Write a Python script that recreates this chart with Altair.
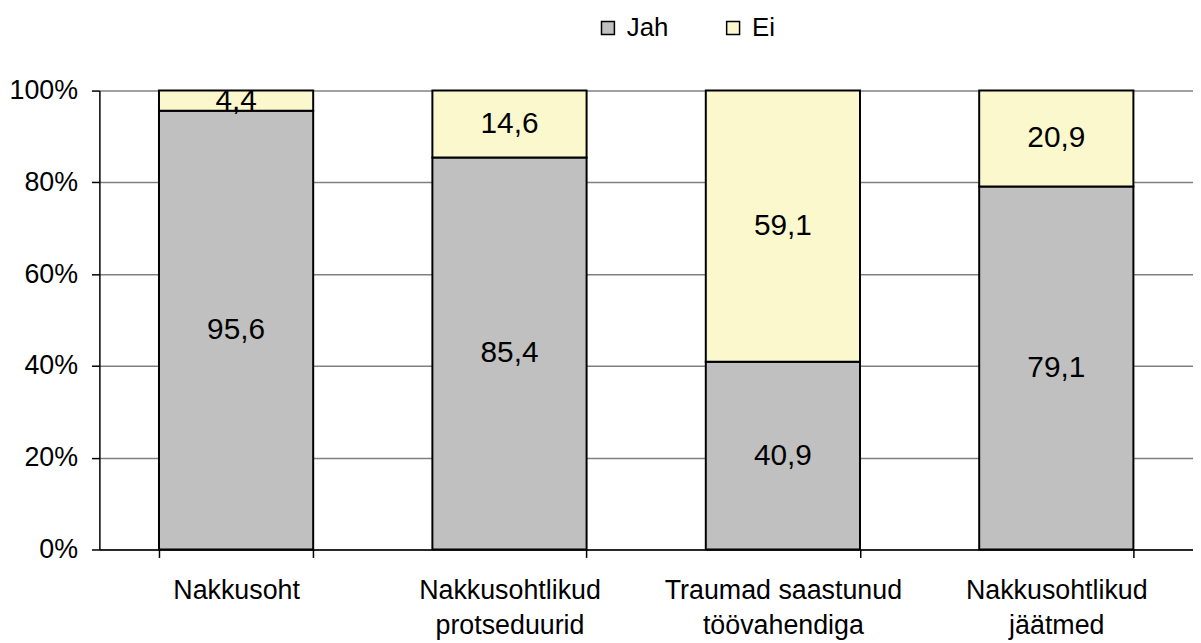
import altair as alt
import pandas as pd

categories = ["Nakkusoht", "Nakkusohtlikud\nprotseduurid", "Traumad saastunud\ntöövahendiga", "Nakkusohtlikud\njäätmed"]
jah = [95.6, 85.4, 40.9, 79.1]
ei = [4.4, 14.6, 59.1, 20.9]
series = ["Jah", "Ei"]
colors = ["#C0C0C0", "#FBF8CE"]

rows = []
for i, c in enumerate(categories):
    rows.append({"cat": c, "series": "Jah", "value": jah[i], "ord": 0})
    rows.append({"cat": c, "series": "Ei", "value": ei[i], "ord": 1})
df = pd.DataFrame(rows)
df["label"] = df["value"].map(lambda v: f"{v:.1f}".replace(".", ","))

FONT = "Liberation Sans"

x = alt.X("cat:N", sort=categories, title=None,
          scale=alt.Scale(paddingInner=0.436, paddingOuter=0.218),
          axis=alt.Axis(labelAngle=0, labelFontSize=27, labelFont=FONT, labelColor="black",
                        labelExpr="split(datum.label, '\\n')", labelPadding=20,
                        labelLineHeight=36, labelLimit=500,
                        tickBand="extent", tickColor="black", tickSize=8, tickWidth=1.5,
                        domainColor="black", domainWidth=1.5, grid=False,
                        minExtent=92, maxExtent=92))

bars = alt.Chart(df).mark_bar(stroke="black", strokeWidth=2).encode(
    x=x,
    y=alt.Y("value:Q", stack="zero", title=None,
            scale=alt.Scale(domain=[0, 100]),
            axis=alt.Axis(values=[0, 20, 40, 60, 80, 100], labelExpr="datum.value + '%'",
                          labelFontSize=27, labelFont=FONT, labelColor="black", labelPadding=14,
                          tickColor="black", tickSize=8, tickWidth=1.5,
                          domainColor="black", domainWidth=1.5,
                          gridColor="#808080", gridWidth=1.5,
                          minExtent=92, maxExtent=92)),
    color=alt.Color("series:N", sort=series,
                    scale=alt.Scale(domain=series, range=colors),
                    legend=alt.Legend(title=None, orient="none", direction="horizontal",
                                      legendX=499, legendY=-76,
                                      symbolType="square", symbolSize=169,
                                      symbolStrokeColor="black", symbolStrokeWidth=1.5,
                                      labelFontSize=26, labelFont=FONT, labelColor="black",
                                      labelOffset=6, columnPadding=52)),
    order=alt.Order("ord:Q"),
)

text = alt.Chart(df).mark_text(fontSize=30, font=FONT, color="black").encode(
    x=alt.X("cat:N", sort=categories),
    y=alt.Y("value:Q", stack="zero", bandPosition=0.5),
    detail="series:N",
    order=alt.Order("ord:Q"),
    text="label:N",
)

chart = alt.layer(bars, text).properties(
    width=1101, height=462,
    autosize=alt.AutoSizeParams(type="none"),
    padding={"left": 92, "right": 0, "top": 81, "bottom": 92},
).configure_view(stroke=None).configure_axis(labelFont=FONT)

chart.save("out.html", embed_options={"renderer": "svg", "actions": False})
